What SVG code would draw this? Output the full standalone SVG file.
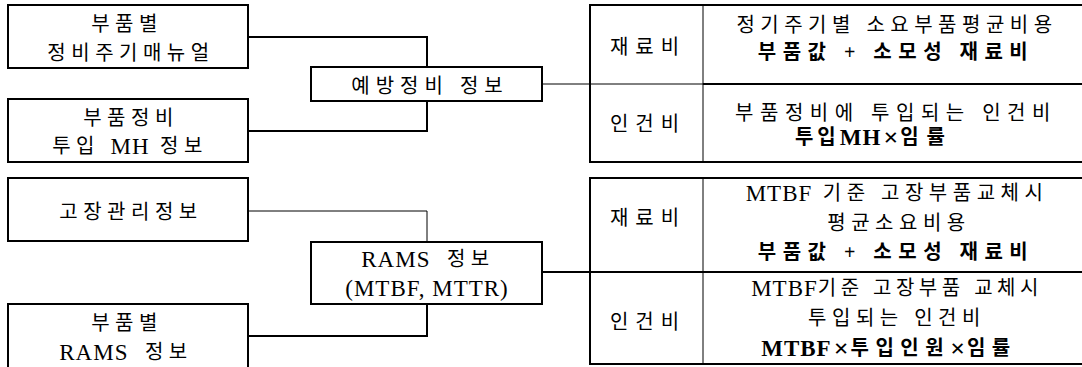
<svg xmlns="http://www.w3.org/2000/svg" width="1082" height="367" viewBox="0 0 1082 367">
<style>
.box{fill:#fff;stroke:#000;stroke-width:2}
.t{font-family:"Liberation Serif","Noto Sans CJK KR",serif;font-size:20px;fill:#000;text-anchor:middle;dominant-baseline:central;letter-spacing:5.5px}
.b{font-weight:bold;letter-spacing:6.5px}
.L{font-size:23px;letter-spacing:1px}
.x{font-size:26px;letter-spacing:2px}
.c1{fill:none;stroke:#000;stroke-width:1}
.c2{fill:none;stroke:#000;stroke-width:2}
</style>
<rect width="1082" height="367" fill="#fff"/>
<g id="connectors">
<polyline class="c2" points="248,37 427,37 427,67"/>
<polyline class="c2" points="248,131 427,131 427,101"/>
<line class="c1" x1="542" y1="84" x2="703" y2="84"/>
<polyline class="c1" points="248,211 427,211 427,242"/>
<polyline class="c2" points="248,336 427,336 427,304"/>
<line class="c2" x1="542" y1="272" x2="703" y2="272"/>
</g>
<g id="n1"><rect class="box" x="8" y="5" width="240" height="63"/>
<text class="t" x="127" y="24">부품별</text>
<text class="t" x="131" y="53">정비주기매뉴얼</text></g>
<g id="n2"><rect class="box" x="8" y="99" width="240" height="63"/>
<text class="t" x="131" y="118">부품정비</text>
<text class="t" x="130" y="146">투입 <tspan class="L">MH</tspan> 정보</text></g>
<g id="n3"><rect class="box" x="8" y="178" width="240" height="63"/>
<text class="t" x="131" y="212">고장관리정보</text></g>
<g id="n4"><rect class="box" x="8" y="304" width="240" height="70"/>
<text class="t" x="127" y="323">부품별</text>
<text class="t" x="126" y="352"><tspan class="L">RAMS</tspan> <tspan dx="6">정보</tspan></text></g>
<g id="n5"><rect class="box" x="311" y="67" width="231" height="34"/>
<text class="t" x="430" y="86" style="letter-spacing:6px">예방정비 정보</text></g>
<g id="n6"><rect class="box" x="311" y="242" width="231" height="62"/>
<text class="t" x="428" y="259"><tspan class="L">RAMS</tspan> <tspan dx="6">정보</tspan></text>
<text class="t" x="427" y="288"><tspan class="L">(MTBF, MTTR)</tspan></text></g>
<g id="table1">
<rect class="box" x="590" y="5" width="500" height="157"/>
<line class="c1" x1="703" y1="5" x2="703" y2="162"/>
<line class="c1" x1="590" y1="84" x2="703" y2="84"/>
<line class="c2" x1="703" y1="84" x2="1082" y2="84"/>
<text class="t" x="648" y="47" style="letter-spacing:7px">재료비</text>
<text class="t" x="897" y="25">정기주기별 소요부품평균비용</text>
<text class="t b" x="896" y="52">부품값 + 소모성 재료비</text>
<text class="t" x="648" y="124" style="letter-spacing:7px">인건비</text>
<text class="t" x="896" y="113" style="letter-spacing:6.5px">부품정비에 투입되는 인건비</text>
<text class="t b" x="874" y="137" style="letter-spacing:8px"><tspan style="letter-spacing:4px">투입</tspan><tspan class="L">MH</tspan><tspan class="x" dx="2">×</tspan><tspan>임률</tspan></text>
</g>
<g id="table2">
<rect class="box" x="590" y="178" width="500" height="186"/>
<line class="c1" x1="703" y1="178" x2="703" y2="364"/>
<line class="c2" x1="590" y1="272" x2="1082" y2="272"/>
<text class="t" x="648" y="218" style="letter-spacing:7px">재료비</text>
<text class="t" x="897" y="193"><tspan class="L">MTBF</tspan> 기준 고장부품교체시</text>
<text class="t" x="899" y="223">평균소요비용</text>
<text class="t b" x="896" y="252">부품값 + 소모성 재료비</text>
<text class="t" x="648" y="322" style="letter-spacing:7px">인건비</text>
<text class="t" x="897" y="288" style="letter-spacing:4.5px"><tspan class="L">MTBF</tspan>기준 고장부품 교체시</text>
<text class="t" x="897" y="318">투입되는 인건비</text>
<text class="t b" x="889" y="348"><tspan class="L">MTBF</tspan><tspan class="x" dx="2">×</tspan><tspan>투입인원</tspan><tspan class="x">×</tspan><tspan>임률</tspan></text>
</g>
</svg>
